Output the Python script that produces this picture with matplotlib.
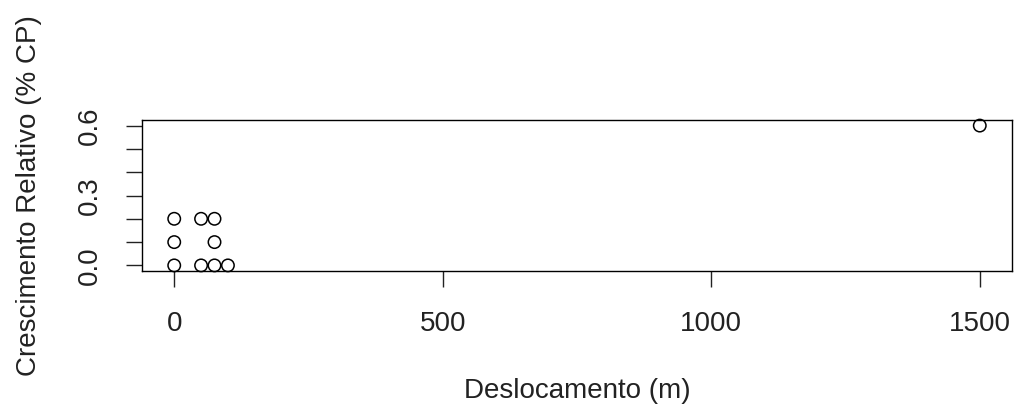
import matplotlib
matplotlib.use("Agg")
import matplotlib.pyplot as plt

# Deslocamento (m) vs crescimento relativo (% CP)
deslocamento = [0, 50, 75, 0, 75, 0, 50, 75, 100, 1500]
crescimento = [0.2, 0.2, 0.2, 0.1, 0.1, 0.0, 0.0, 0.0, 0.0, 0.6]

x_ticks = [0, 500, 1000, 1500]
y_ticks = [0.0, 0.1, 0.2, 0.3, 0.4, 0.5, 0.6]
y_labels = ["0.0", "", "", "0.3", "", "", "0.6"]

plt.rcParams["font.family"] = ["Liberation Sans", "DejaVu Sans"]

fig = plt.figure(figsize=(10.14, 4.08), dpi=100)
ax = fig.add_axes([142 / 1014, 1 - 271 / 408, 870 / 1014, 151 / 408])

ax.scatter(deslocamento, crescimento, s=80, facecolors="none",
           edgecolors="black", linewidths=1.1, zorder=3, clip_on=False)

# R-style 4% padding around the data range
ax.set_xlim(-60, 1560)
ax.set_ylim(-0.024, 0.624)

for s in ax.spines.values():
    s.set_linewidth(1.0)

ax.set_xticks(x_ticks)
ax.set_xticklabels([str(t) for t in x_ticks], fontsize=20, color="#222222")
ax.set_yticks(y_ticks)
ax.set_yticklabels(y_labels, fontsize=20, color="#222222", rotation=90,
                   va="center")
ax.tick_params(axis="both", direction="out", length=11.5, width=1.0,
               color="#222222")
ax.tick_params(axis="x", pad=17)
ax.tick_params(axis="y", pad=17)

ax.set_xlabel("Deslocamento (m)", fontsize=20, color="#222222", labelpad=30)
ax.set_ylabel("Crescimento Relativo (% CP)", fontsize=20, color="#222222",
              labelpad=25)

fig.savefig("out.png", dpi=100, facecolor="white")
